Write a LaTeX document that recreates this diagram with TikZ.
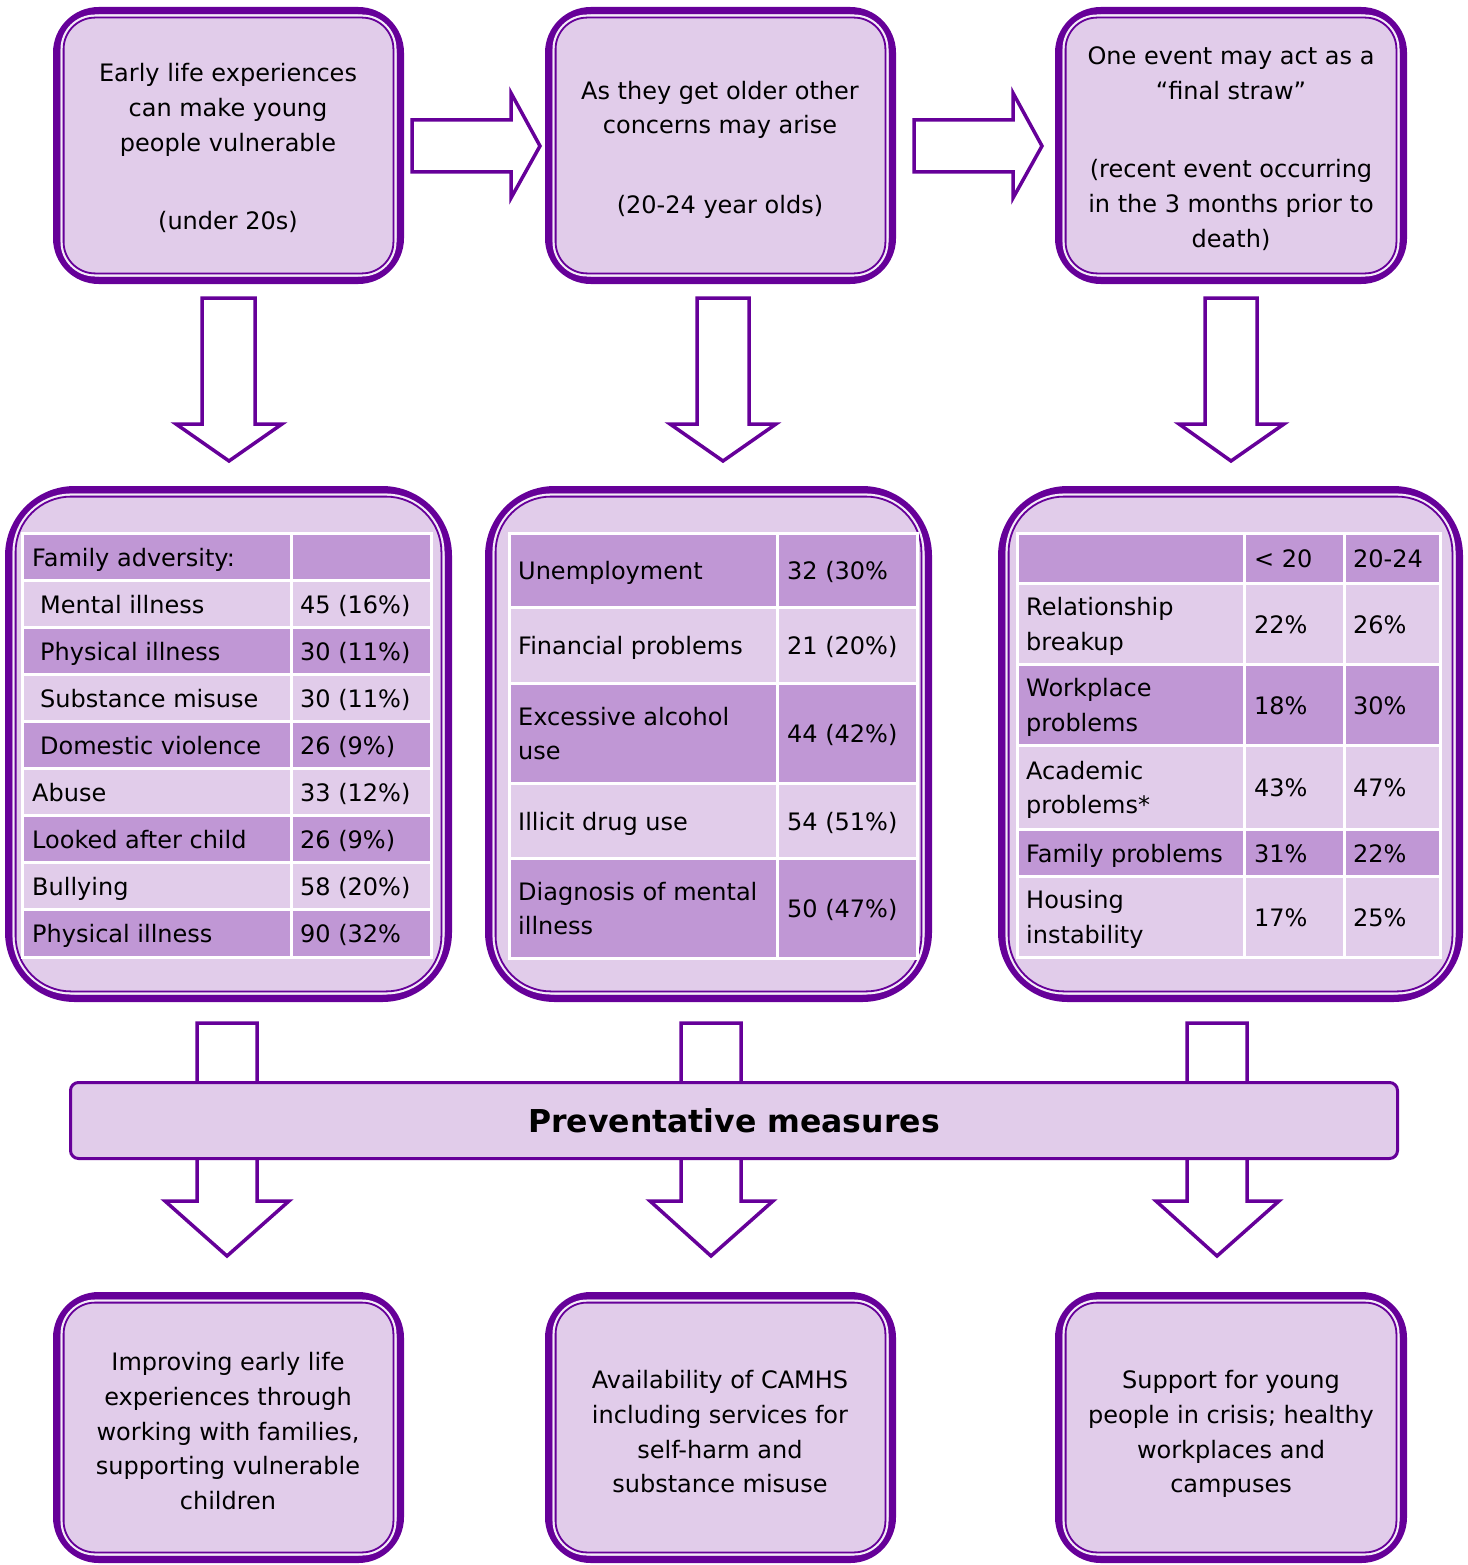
\documentclass[tikz,border=0pt]{standalone}
\usepackage{fontspec}
\setmainfont{DejaVu Sans}
\definecolor{pp}{HTML}{660099}
\definecolor{lt}{HTML}{E1CCEA}
\definecolor{dk}{HTML}{C097D5}
\definecolor{gp}{HTML}{F4ECF8}
\newcommand\boxfont{\fontsize{24}{34.75}\selectfont}
\newcommand\tabfont{\fontsize{24}{34.5}\selectfont}
\newcommand\sa{\rule[-6pt]{0pt}{24pt}}
\newcommand\fancybox[5]{%
  \pgfmathsetmacro\ra{#5}%
  \pgfmathsetmacro\rb{#5-8.6}%
  \pgfmathsetmacro\rc{#5-10.6}%
  \draw[pp, fill=lt, line width=7.5, rounded corners=\ra pt] ({#1+3.75},{#2+3.75}) rectangle ({#3-3.75},{#4-3.75});
  \draw[gp, line width=2.2, rounded corners=\rb pt] ({#1+8.6},{#2+8.6}) rectangle ({#3-8.6},{#4-8.6});
  \draw[pp, line width=1.8, rounded corners=\rc pt] ({#1+10.6},{#2+10.6}) rectangle ({#3-10.6},{#4-10.6});
}
\tikzset{
  blockarrow/.style={draw=pp, fill=white, line width=3.5, line join=miter},
  cellbox/.style={draw=white, line width=3},
  boxtext/.style={align=center, font=\boxfont, inner sep=0pt, yshift=-3.5pt},
  celltext/.style={anchor=west, align=left, font=\tabfont, inner sep=0pt, yshift=-3.5pt},
}
\begin{document}
\begin{tikzpicture}[x=1pt,y=-1pt]
\useasboundingbox (0,0) rectangle (1467,1565);

% ---------- top boxes ----------
\fancybox{53}{7}{404}{284}{42}
\fancybox{545}{7}{896}{284}{42}
\fancybox{1055}{7}{1407}{284}{42}
\node[boxtext] (top1) at (228,146) {\sa Early life experiences\\can make young\\people vulnerable\\[43pt](under 20s)\sa};
\node[boxtext] (top2) at (720,146.5) {\sa As they get older other\\concerns may arise\\[44.5pt](20-24 year olds)\sa};
\node[boxtext] (top3) at (1231,146.5) {\sa One event may act as a\\“final straw”\\[43.5pt](recent event occurring\\in the 3 months prior to\\death)\sa};

% ---------- right arrows ----------
\draw[blockarrow] (412,120) -- (511,120) -- (511,93) -- (540,146) -- (511,198) -- (511,172) -- (412,172) -- cycle;
\draw[blockarrow] (914,120) -- (1013,120) -- (1013,93) -- (1042,146) -- (1013,198) -- (1013,172) -- (914,172) -- cycle;

% ---------- down arrows ----------
\foreach \sl/\sr/\hl/\hr/\tip in {202/255/176/282/229, 697/749/670/776/723, 1205/1257/1179/1284/1231}{
  \draw[blockarrow] (\sl,298) -- (\sr,298) -- (\sr,424) -- (\hr,424) -- (\tip,461) -- (\hl,424) -- (\sl,424) -- cycle;
}

% ---------- middle boxes ----------
\fancybox{5}{486}{452}{1002}{66}
\fancybox{485}{486}{932}{1002}{66}
\fancybox{998}{486}{1463}{1002}{66}

% table 1
\foreach \ya/\yb/\c/\lx/\lab/\val in {
  533/580/dk/32/{Family adversity:}/{},
  580/627/lt/40/{Mental illness}/{45 (16\%)},
  627/674/dk/40/{Physical illness}/{30 (11\%)},
  674/721/lt/40/{Substance misuse}/{30 (11\%)},
  721/768/dk/40/{Domestic violence}/{26 (9\%)},
  768/815/lt/32/{Abuse}/{33 (12\%)},
  815/862/dk/32/{Looked after child}/{26 (9\%)},
  862/909/lt/32/{Bullying}/{58 (20\%)},
  909/957/dk/32/{Physical illness}/{90 (32\%}}{
  \draw[cellbox, fill=\c] (22,\ya) rectangle (291.5,\yb);
  \draw[cellbox, fill=\c] (291.5,\ya) rectangle (431,\yb);
  \node[celltext] (a\ya) at (\lx,{(\ya+\yb)/2}) {\sa\lab\sa};
  \node[celltext] (b\ya) at (300,{(\ya+\yb)/2}) {\sa\val\sa};
}

% table 2
\foreach \ya/\yb/\c/\lab/\val in {
  533/607/dk/{Unemployment}/{32 (30\%},
  607/683/lt/{Financial problems}/{21 (20\%)},
  683/783/dk/{Excessive alcohol\\use}/{44 (42\%)},
  783/858/lt/{Illicit drug use}/{54 (51\%)},
  858/958/dk/{Diagnosis of mental\\illness}/{50 (47\%)}}{
  \draw[cellbox, fill=\c] (509,\ya) rectangle (777.5,\yb);
  \draw[cellbox, fill=\c] (777.5,\ya) rectangle (917,\yb);
  \node[celltext] (c\ya) at (518,{(\ya+\yb)/2}) {\sa\lab\sa};
  \node[celltext] (d\ya) at (787,{(\ya+\yb)/2}) {\sa\val\sa};
}

% table 3
\foreach \ya/\yb/\c/\lab/\va/\vb in {
  533/583/dk/{}/{< 20}/{20-24},
  583/664/lt/{Relationship\\breakup}/{22\%}/{26\%},
  664/745/dk/{Workplace\\problems}/{18\%}/{30\%},
  745/829/lt/{Academic\\problems*}/{43\%}/{47\%},
  829/876/dk/{Family problems}/{31\%}/{22\%},
  876/957/lt/{Housing\\instability}/{17\%}/{25\%}}{
  \draw[cellbox, fill=\c] (1017,\ya) rectangle (1244,\yb);
  \draw[cellbox, fill=\c] (1244,\ya) rectangle (1344,\yb);
  \draw[cellbox, fill=\c] (1344,\ya) rectangle (1440,\yb);
  \node[celltext] (e\ya) at (1026,{(\ya+\yb)/2}) {\sa\lab\sa};
  \node[celltext] (f\ya) at (1254,{(\ya+\yb)/2}) {\sa\va\sa};
  \node[celltext] (g\ya) at (1353,{(\ya+\yb)/2}) {\sa\vb\sa};
}

% ---------- arrows through bar ----------
\foreach \sl/\sr/\hl/\hr/\tip in {197/257/165/289/227, 681/741/650/773/711, 1187/1247/1156/1279/1217}{
  \draw[blockarrow] (\sl,1023) -- (\sr,1023) -- (\sr,1201) -- (\hr,1201) -- (\tip,1256) -- (\hl,1201) -- (\sl,1201) -- cycle;
}
\node[draw=pp, fill=lt, line width=3, rounded corners=8pt, minimum width=1327pt, minimum height=76pt, inner sep=0pt,
  font=\fontsize{31.5}{36}\selectfont\bfseries] (bar) at (734,1120.5) {Preventative measures};

% ---------- bottom boxes ----------
\fancybox{53}{1292}{404}{1563}{42}
\fancybox{545}{1292}{896}{1563}{42}
\fancybox{1055}{1292}{1407}{1563}{42}
\node[boxtext] (bot1) at (228,1430.5) {\sa Improving early life\\experiences through\\working with families,\\supporting vulnerable\\children\sa};
\node[boxtext] (bot2) at (720,1431) {\sa Availability of CAMHS\\including services for\\self-harm and\\substance misuse\sa};
\node[boxtext] (bot3) at (1231,1431) {\sa Support for young\\people in crisis; healthy\\workplaces and\\campuses\sa};
\end{tikzpicture}
\end{document}
